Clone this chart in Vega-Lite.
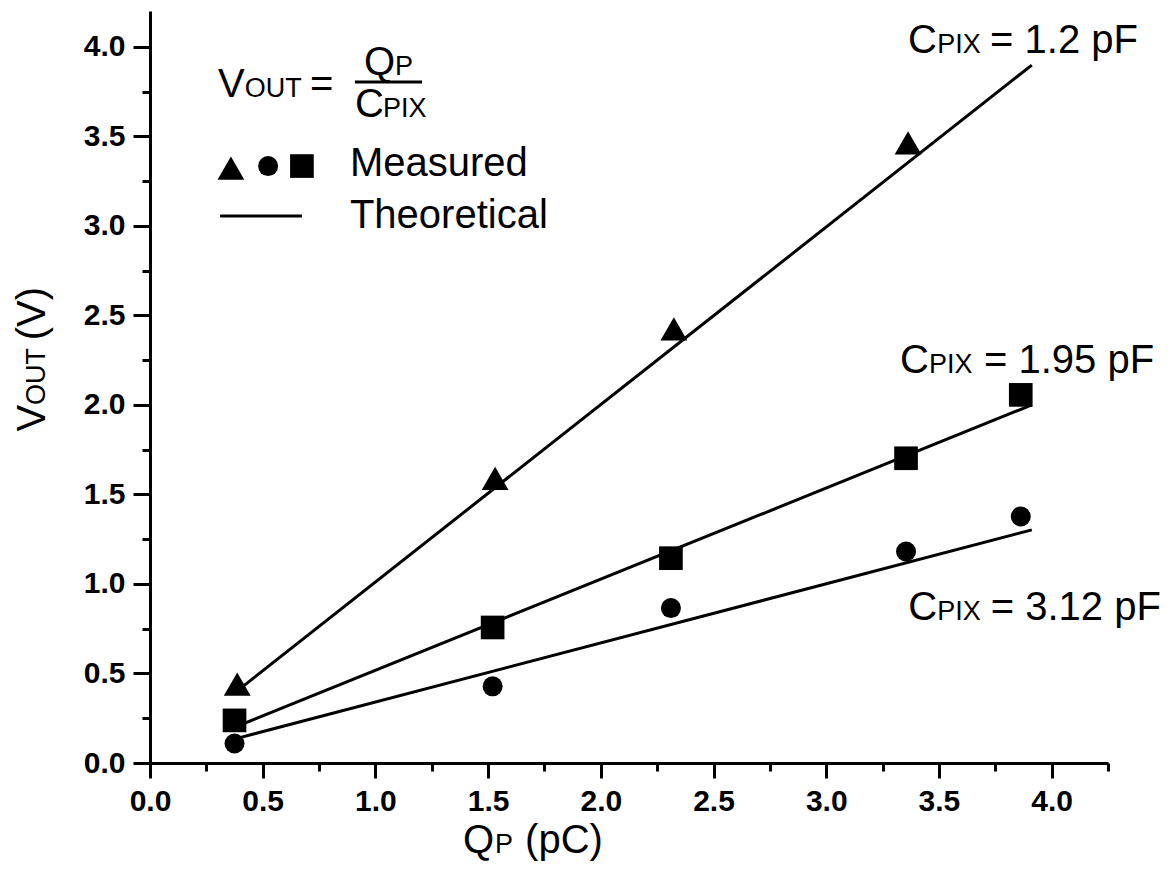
{
  "$schema": "https://vega.github.io/schema/vega-lite/v6.json",
  "width": 958,
  "height": 752,
  "autosize": {"type": "none"},
  "padding": {"left": 150, "top": 11, "right": 68, "bottom": 125},
  "background": "white",
  "config": {
    "view": {"stroke": null},
    "axis": {
      "labelFont": "Liberation Sans",
      "labelFontWeight": "bold",
      "labelFontSize": 30,
      "labelColor": "black",
      "tickColor": "black",
      "domainColor": "black",
      "tickWidth": 3,
      "domainWidth": 3,
      "grid": false,
      "labelFlush": false,
      "labelOverlap": false,
      "labelBound": false
    },
    "text": {"font": "Liberation Sans", "color": "black"}
  },
  "datasets": {
    "lines": [
      {"series": "1.2", "q": 0.39, "v": 0.406},
      {"series": "1.2", "q": 3.912, "v": 3.898},
      {"series": "1.95", "q": 0.39, "v": 0.207},
      {"series": "1.95", "q": 3.912, "v": 2.0},
      {"series": "3.12", "q": 0.39, "v": 0.139},
      {"series": "3.12", "q": 3.912, "v": 1.302}
    ],
    "points": [
      {"series": "1.2", "q": 0.387, "v": 0.441},
      {"series": "1.2", "q": 1.531, "v": 1.589},
      {"series": "1.2", "q": 2.324, "v": 2.425},
      {"series": "1.2", "q": 3.363, "v": 3.464},
      {"series": "1.95", "q": 0.375, "v": 0.238},
      {"series": "1.95", "q": 1.52, "v": 0.757},
      {"series": "1.95", "q": 2.311, "v": 1.144},
      {"series": "1.95", "q": 3.354, "v": 1.702},
      {"series": "1.95", "q": 3.863, "v": 2.056},
      {"series": "3.12", "q": 0.375, "v": 0.109},
      {"series": "3.12", "q": 1.52, "v": 0.428},
      {"series": "3.12", "q": 2.311, "v": 0.865},
      {"series": "3.12", "q": 3.354, "v": 1.181},
      {"series": "3.12", "q": 3.863, "v": 1.377}
    ],
    "legendSymbols": [
      {"series": "1.2", "q": 0.359, "v": 3.323},
      {"series": "3.12", "q": 0.524, "v": 3.334},
      {"series": "1.95", "q": 0.674, "v": 3.334}
    ],
    "rules": [
      {"q": 0.311, "q2": 0.674, "v": 3.055},
      {"q": 0.909, "q2": 1.207, "v": 3.803}
    ],
    "bigText": [
      {"text": "V", "q": 0.302, "v": 3.721},
      {"text": "=", "q": 0.71, "v": 3.721},
      {"text": "Q", "q": 0.949, "v": 3.842},
      {"text": "C", "q": 0.909, "v": 3.607},
      {"text": "Measured", "q": 0.887, "v": 3.28},
      {"text": "Theoretical", "q": 0.887, "v": 2.99},
      {"text": "C", "q": 3.363, "v": 3.963},
      {"text": "= 1.2 pF", "q": 3.727, "v": 3.963},
      {"text": "C", "q": 3.327, "v": 2.177},
      {"text": "= 1.95 pF", "q": 3.7, "v": 2.177},
      {"text": "C", "q": 3.364, "v": 0.8},
      {"text": "= 3.12 pF", "q": 3.73, "v": 0.8},
      {"text": "Q", "q": 1.389, "v": -0.5},
      {"text": "(pC)", "q": 1.664, "v": -0.5}
    ],
    "smallText": [
      {"text": "OUT", "q": 0.42, "v": 3.721},
      {"text": "P", "q": 1.087, "v": 3.842},
      {"text": "PIX", "q": 1.034, "v": 3.607},
      {"text": "PIX", "q": 3.493, "v": 3.963},
      {"text": "PIX", "q": 3.456, "v": 2.177},
      {"text": "PIX", "q": 3.493, "v": 0.8},
      {"text": "P", "q": 1.53, "v": -0.5}
    ],
    "bigTextRot": [
      {"text": "V", "q": -0.466, "v": 1.851},
      {"text": "(V)", "q": -0.466, "v": 2.361}
    ],
    "smallTextRot": [
      {"text": "OUT", "q": -0.466, "v": 2.0}
    ]
  },
  "resolve": {"axis": {"x": "independent", "y": "independent"}},
  "layer": [
    {
      "data": {"name": "lines"},
      "mark": {"type": "line", "color": "black", "strokeWidth": 3},
      "encoding": {
        "x": {"field": "q", "type": "quantitative",
              "scale": {"domain": [0, 4.25], "nice": false, "zero": false},
              "axis": {"orient": "bottom", "values": [0, 0.5, 1, 1.5, 2, 2.5, 3, 3.5, 4], "format": ".1f", "tickSize": 15, "labelPadding": 8, "title": null}},
        "y": {"field": "v", "type": "quantitative",
              "scale": {"domain": [0, 4.2], "nice": false, "zero": false},
              "axis": {"orient": "left", "values": [0, 0.5, 1, 1.5, 2, 2.5, 3, 3.5, 4], "format": ".1f", "tickSize": 17, "labelPadding": 8, "title": null}},
        "detail": {"field": "series", "type": "nominal"}
      }
    },
    {
      "data": {"name": "points"},
      "mark": {"type": "point", "filled": true, "color": "black", "opacity": 1},
      "encoding": {
        "x": {"field": "q", "type": "quantitative",
              "axis": {"orient": "bottom", "values": [0.25, 0.75, 1.25, 1.75, 2.25, 2.75, 3.25, 3.75, 4.25], "labels": false, "domain": false, "tickSize": 8, "title": null}},
        "y": {"field": "v", "type": "quantitative",
              "axis": {"orient": "left", "values": [0.25, 0.75, 1.25, 1.75, 2.25, 2.75, 3.25, 3.75], "labels": false, "domain": false, "tickSize": 8, "title": null}},
        "shape": {"field": "series", "type": "nominal", "scale": {"domain": ["1.2", "1.95", "3.12"], "range": ["triangle-up", "square", "circle"]}, "legend": null},
        "size": {"field": "series", "type": "ordinal", "scale": {"domain": ["1.2", "1.95", "3.12"], "range": [720, 400, 346]}, "legend": null}
      }
    },
    {
      "data": {"name": "legendSymbols"},
      "mark": {"type": "point", "filled": true, "color": "black", "opacity": 1},
      "encoding": {
        "x": {"field": "q", "type": "quantitative", "axis": null},
        "y": {"field": "v", "type": "quantitative", "axis": null},
        "shape": {"field": "series", "type": "nominal", "legend": null},
        "size": {"field": "series", "type": "ordinal", "legend": null}
      }
    },
    {
      "data": {"name": "rules"},
      "mark": {"type": "rule", "color": "black", "strokeWidth": 3},
      "encoding": {
        "x": {"field": "q", "type": "quantitative", "axis": null},
        "x2": {"field": "q2"},
        "y": {"field": "v", "type": "quantitative", "axis": null}
      }
    },
    {
      "data": {"name": "bigText"},
      "mark": {"type": "text", "fontSize": 40, "align": "left", "baseline": "alphabetic"},
      "encoding": {
        "x": {"field": "q", "type": "quantitative", "axis": null},
        "y": {"field": "v", "type": "quantitative", "axis": null},
        "text": {"field": "text"}
      }
    },
    {
      "data": {"name": "smallText"},
      "mark": {"type": "text", "fontSize": 27, "align": "left", "baseline": "alphabetic"},
      "encoding": {
        "x": {"field": "q", "type": "quantitative", "axis": null},
        "y": {"field": "v", "type": "quantitative", "axis": null},
        "text": {"field": "text"}
      }
    },
    {
      "data": {"name": "bigTextRot"},
      "mark": {"type": "text", "fontSize": 40, "align": "left", "baseline": "alphabetic", "angle": 270},
      "encoding": {
        "x": {"field": "q", "type": "quantitative", "axis": null},
        "y": {"field": "v", "type": "quantitative", "axis": null},
        "text": {"field": "text"}
      }
    },
    {
      "data": {"name": "smallTextRot"},
      "mark": {"type": "text", "fontSize": 27, "align": "left", "baseline": "alphabetic", "angle": 270},
      "encoding": {
        "x": {"field": "q", "type": "quantitative", "axis": null},
        "y": {"field": "v", "type": "quantitative", "axis": null},
        "text": {"field": "text"}
      }
    }
  ]
}
